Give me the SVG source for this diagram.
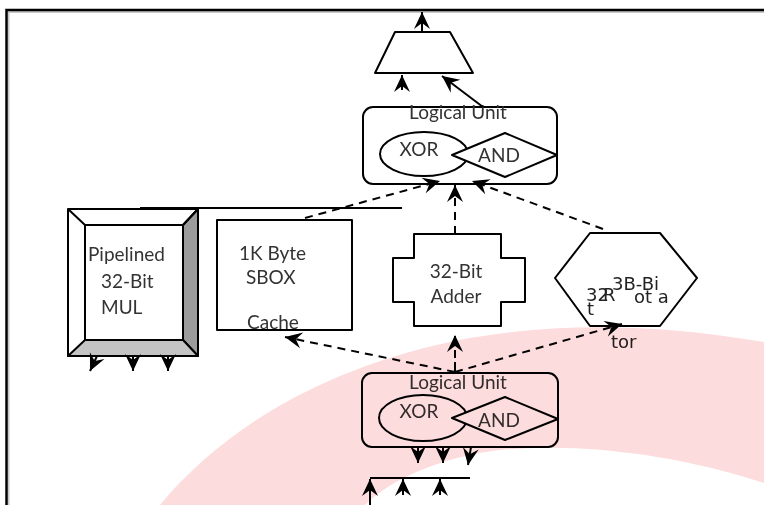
<svg xmlns="http://www.w3.org/2000/svg" width="764" height="505" viewBox="0 0 764 505">
<defs>
<marker id="ah" markerUnits="userSpaceOnUse" markerWidth="22" markerHeight="20" viewBox="-20 -10 22 20" refX="0" refY="0" orient="auto">
<path d="M0,0 L-17,-8 L-11,0 L-17,8 Z" fill="#000"/>
</marker>
<style>
.s{fill:#fff;stroke:#000;stroke-width:2;stroke-linejoin:round}
.n{fill:none;stroke:#000;stroke-width:2}
.d{fill:none;stroke:#000;stroke-width:2;stroke-dasharray:8 6}
.a{marker-end:url(#ah)}
.t{font-family:Lato,"Open Sans",sans-serif;font-size:19px;fill:#333}
.h{font-family:"DejaVu Sans",sans-serif;font-size:18px;fill:#222}
</style>
</defs>
<rect width="764" height="505" fill="#fff"/>
<g id="frame">
<path d="M8.5,505 V12 H764" fill="none" stroke="#c8c8c8" stroke-width="2"/>
<path d="M6.5,505 V10 H764" fill="none" stroke="#000" stroke-width="2.5"/>
</g>
<g id="mux">
<path class="s" d="M395,32 H450 L473,73 H375 Z"/>
</g>
<g id="lu-top">
<rect class="s" x="363" y="107" width="194" height="77" rx="10"/>
<text class="t" x="458" y="119" text-anchor="middle">Logical Unit</text>
<ellipse class="s" cx="424" cy="154" rx="44" ry="22"/>
<text class="t" x="419" y="156" text-anchor="middle">XOR</text>
<path class="s" d="M452,155 L505,133 L557,155 L505,177 Z"/>
<text class="t" x="499" y="162" text-anchor="middle">AND</text>
</g>
<g id="mul">
<rect class="s" x="68" y="209" width="130" height="147"/>
<path d="M198,209 V356 L183,340 V225 Z" fill="#9c9c9c" stroke="#000" stroke-width="2" stroke-linejoin="round"/>
<path d="M68,356 H198 L183,340 H85 Z" fill="#c4c4c4" stroke="#000" stroke-width="2" stroke-linejoin="round"/>
<rect class="s" x="85" y="225" width="98" height="115"/>
<path class="n" d="M68,209 L85,225 M198,209 L183,225"/>
<text class="t" x="88" y="261">Pipelined</text>
<text class="t" x="101" y="288">32-Bit</text>
<text class="t" x="101" y="314">MUL</text>
</g>
<g id="sbox">
<rect class="s" x="217" y="220" width="135" height="110"/>
<text class="t" x="239" y="260">1K Byte</text>
<text class="t" x="246" y="284">SBOX</text>
<text class="t" x="247" y="329">Cache</text>
</g>
<g id="adder">
<path class="s" d="M414,234 H501 V258 H525 V302 H501 V326 H414 V302 H393 V258 H414 Z"/>
<text class="t" x="456" y="278" text-anchor="middle">32-Bit</text>
<text class="t" x="456" y="303" text-anchor="middle">Adder</text>
</g>
<g id="rotator">
<path class="s" d="M590,233 H660 L697,278 L660,326 H590 L555,278 Z"/>
<text class="h" x="612" y="290">3B-Bi</text>
<text class="h" x="586" y="301">32</text>
<text class="h" x="603" y="301" font-size="14">R</text>
<text class="h" x="634" y="303">ot a</text>
<text class="h" x="587" y="315">t</text>
<text class="h" x="611" y="348">tor</text>
</g>
<g id="lu-bottom">
<rect class="s" x="362" y="373" width="196" height="74" rx="10"/>
<text class="t" x="458" y="389" text-anchor="middle">Logical Unit</text>
<ellipse class="s" cx="423" cy="418" rx="44" ry="23"/>
<text class="t" x="419" y="418" text-anchor="middle">XOR</text>
<path class="s" d="M452,418 L505,397 L558,419 L505,440 Z"/>
<text class="t" x="499" y="427" text-anchor="middle">AND</text>
</g>
<g id="connectors">
<path class="n a" d="M422,32 V12"/>
<path class="n a" d="M402,90 V75"/>
<path class="n a" d="M483,107 L442,76"/>
<path class="d a" d="M305,218 L440,181"/>
<path class="d a" d="M455,234 V185"/>
<path class="d a" d="M603,229 L472,181"/>
<path class="n" d="M140,208 H402"/>
<path class="n a" d="M97,356 L90,371"/>
<path class="n a" d="M133,356 V371"/>
<path class="n a" d="M168,356 V371"/>
<path class="d a" d="M455,372 L285,337"/>
<path class="d a" d="M455,372 V335"/>
<path class="n" d="M455,362 V372"/>
<path class="d a" d="M455,372 L622,324"/>
<path class="n a" d="M418,447 V463"/>
<path class="n a" d="M443,447 V463"/>
<path class="n a" d="M471,447 L468,465"/>
<path class="n" d="M370,478 H470"/>
<path class="n a" d="M370,505 V479"/>
<path class="n a" d="M403,495 V479"/>
<path class="n a" d="M440,495 V479"/>
</g>
<path id="watermark" d="M160,505 C230,420 340,362 470,338 C560,322 660,324 764,342 L764,483 C680,455 580,442 500,450 C440,457 390,480 365,505 Z" fill="#fddcdd" style="mix-blend-mode:multiply"/>
</svg>
